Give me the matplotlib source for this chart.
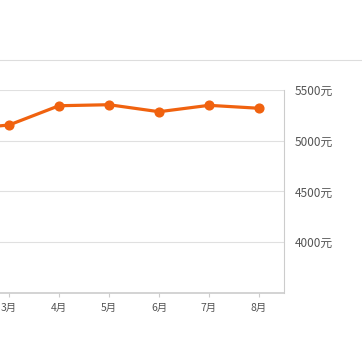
import matplotlib
matplotlib.use("Agg")
from matplotlib import pyplot as plt
from matplotlib.lines import Line2D

plt.rcParams['font.family'] = ['Noto Sans CJK SC', 'DejaVu Sans']

# --- data ---
months = [1, 2, 3, 4, 5, 6, 7, 8]
month_labels = ['1月', '2月', '3月', '4月', '5月', '6月', '7月', '8月']
prices = [5080, 5110, 5155, 5345, 5355, 5286, 5349, 5320]
y_ticks = [4000, 4500, 5000, 5500]
y_labels = ['4000元', '4500元', '5000元', '5500元']

W = H = 362
fig = plt.figure(figsize=(W / 100, H / 100), dpi=100)

# axes run off the left edge, like the cropped original
left_px, right_px = -116, 284
top_px, bottom_px = 90, 293
ax = fig.add_axes([left_px / W, 1 - bottom_px / H,
                   (right_px - left_px) / W, (bottom_px - top_px) / H])

ax.plot(months, prices, color='#f0620f', linewidth=2.3,
        marker='o', markersize=6.3, clip_on=False, zorder=3)

ax.set_xlim(0.5, 8.5)
ax.set_ylim(3500, 5500)
ax.set_xticks(months)
ax.set_xticklabels(month_labels)
ax.set_yticks(y_ticks)
ax.set_yticklabels(y_labels)
ax.yaxis.tick_right()

ax.grid(axis='y', color='#e0e0e0', linewidth=0.8)
ax.set_axisbelow(True)

for side in ['top', 'left']:
    ax.spines[side].set_visible(False)
ax.spines['right'].set_color('#cccccc')
ax.spines['bottom'].set_color('#cccccc')
ax.spines['bottom'].set_linewidth(1.2)

ax.tick_params(axis='y', length=0, pad=8, labelsize=8.5, labelcolor='#555555')
ax.tick_params(axis='x', length=3, color='#cccccc', pad=4,
               labelsize=7.5, labelcolor='#555555')

# thin border line at top of the card
fig.add_artist(Line2D([0, 1], [1 - 60 / H, 1 - 60 / H],
                      transform=fig.transFigure, color='#dddddd', linewidth=0.8))

plt.savefig('out.png', dpi=100)
